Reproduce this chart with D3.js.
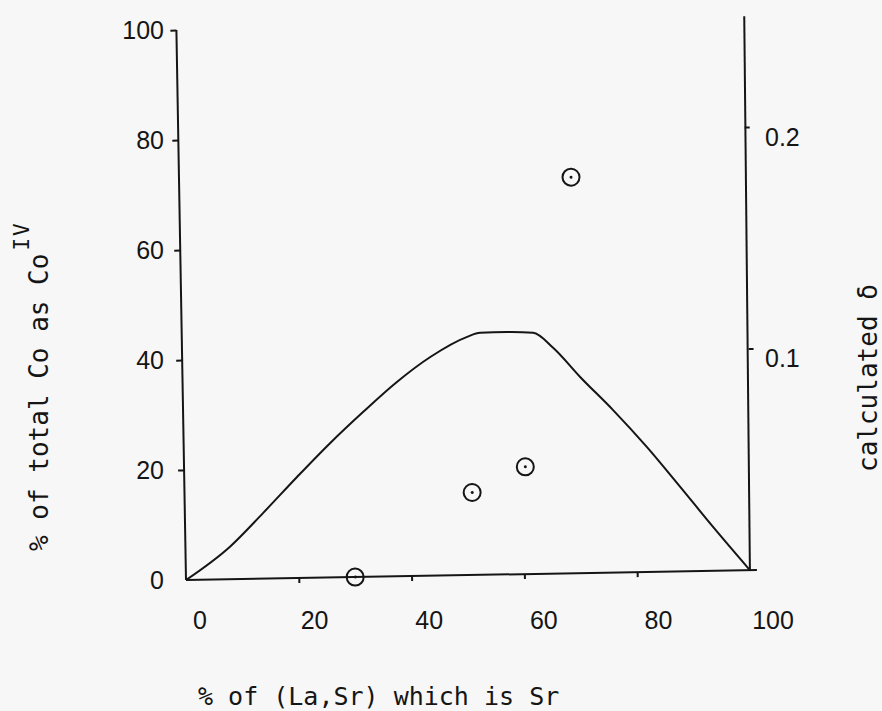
<!DOCTYPE html>
<html lang="en">

<head>
    <meta charset="UTF-8">
    <title>Co(IV) fraction vs Sr content</title>
    <script src="https://cdn.jsdelivr.net/npm/d3@7"></script>
    <style>
        html, body { margin: 0; padding: 0; background: #f7f7f7; }
        svg { display: block; }
    </style>
</head>

<body>
    <svg id="chart" width="882" height="711"></svg>

    <script>
        // % of (La,Sr) which is Sr  vs  % of total Co as Co(IV)
        const measuredSr = [30, 51, 60.5, 69.5]
        const measuredCoIV = [0, 15, 19.5, 72]

        // calculated delta curve (right axis)
        const curveSr = [0, 7.9, 13.9, 20, 26, 31.9, 38, 44, 50.6, 52.9, 57.7, 62.3, 65.8, 70.5, 76.2, 82.1, 87.9, 93.6, 100]
        const curveDelta = [0, 0.0147, 0.0297, 0.0456, 0.0607, 0.0744, 0.0877, 0.0987, 0.1075, 0.1092, 0.1094, 0.1088, 0.1019, 0.0885, 0.0734, 0.0564, 0.0381, 0.0198, 0]

        const xTicks = [0, 20, 40, 60, 80, 100]
        const leftTicks = [0, 20, 40, 60, 80, 100]
        const rightTicks = [0.1, 0.2]

        const ink = '#151515'
        const svg = d3.select('#chart')

        const x = d3.scaleLinear().domain([0, 100]).range([186, 750])
        const xLabel = d3.scaleLinear().domain([0, 100]).range([200, 773])
        const yLeft = d3.scaleLinear().domain([0, 100]).range([580, 30])
        const yRight = d3.scaleLinear().domain([0, 0.25]).range([580, 26])

        // the scanned figure sits slightly rotated on the page
        const plot = svg.append('g')
            .attr('transform', `rotate(-1, ${x(0)}, ${yLeft(0)})`)

        // axis lines (the right one is drawn a touch less tilted)
        const axisLines = [
            [[x(0), yLeft(0)], [x(0), yLeft(100)]],
            [[x(0), yLeft(0)], [x(100) + 7, yLeft(0)]],
            [[x(100), yRight(0)], [x(100) + 4, yRight(0.25)]]
        ]
        plot.selectAll('line.axis')
            .data(axisLines)
            .join('line')
            .attr('class', 'axis')
            .attr('x1', d => d[0][0]).attr('y1', d => d[0][1])
            .attr('x2', d => d[1][0]).attr('y2', d => d[1][1])
            .attr('stroke', ink)
            .attr('stroke-width', 2)

        // tick marks
        const left = plot.append('g')
            .attr('transform', `translate(${x(0)},0)`)
            .call(d3.axisLeft(yLeft).tickValues([20, 40, 60, 80, 100]).tickSize(6).tickFormat(''))
        const bottom = plot.append('g')
            .attr('transform', `translate(0,${yLeft(0)})`)
            .call(d3.axisBottom(x).tickValues([20, 40, 60, 80]).tickSize(5).tickFormat(''))
        const right = plot.append('g')
            .attr('transform', `translate(${x(100) + 2.5},0)`)
            .call(d3.axisRight(yRight).tickValues(rightTicks).tickSize(5).tickFormat(''))
        ;[left, bottom, right].forEach(g => {
            g.select('.domain').remove()
            g.selectAll('line').attr('stroke', ink).attr('stroke-width', 2)
        })

        // calculated delta curve
        const line = d3.line()
            .x(d => x(d[0]))
            .y(d => yRight(d[1]))
            .curve(d3.curveMonotoneX)
        plot.append('path')
            .datum(curveSr.map((s, i) => [s, curveDelta[i]]))
            .attr('d', line)
            .attr('fill', 'none')
            .attr('stroke', ink)
            .attr('stroke-width', 2)

        // measured points: circled dots
        const pts = plot.selectAll('g.pt')
            .data(measuredSr.map((s, i) => [s, measuredCoIV[i]]))
            .join('g')
            .attr('class', 'pt')
            .attr('transform', d => `translate(${x(d[0])},${yLeft(d[1])})`)
        pts.append('circle')
            .attr('r', 8.5)
            .attr('fill', 'none')
            .attr('stroke', ink)
            .attr('stroke-width', 2)
        pts.append('circle')
            .attr('r', 1.5)
            .attr('fill', ink)

        // tick labels (typed on the page, not rotated)
        const tickFont = '"Liberation Sans", Arial, sans-serif'
        svg.selectAll('text.xt')
            .data(xTicks)
            .join('text')
            .attr('class', 'xt')
            .attr('x', d => xLabel(d))
            .attr('y', 629)
            .attr('text-anchor', 'middle')
            .attr('font-family', tickFont)
            .attr('font-size', 25)
            .attr('fill', ink)
            .text(d => d)

        svg.selectAll('text.yl')
            .data(leftTicks)
            .join('text')
            .attr('class', 'yl')
            .attr('x', 164)
            .attr('y', d => yLeft(d) + 9)
            .attr('text-anchor', 'end')
            .attr('font-family', tickFont)
            .attr('font-size', 25)
            .attr('fill', ink)
            .text(d => d)

        svg.selectAll('text.yr')
            .data(rightTicks)
            .join('text')
            .attr('class', 'yr')
            .attr('x', 765)
            .attr('y', d => yRight(d) + 9)
            .attr('font-family', tickFont)
            .attr('font-size', 25)
            .attr('fill', ink)
            .text(d => d.toFixed(1))

        // axis titles
        const titleFont = '"DejaVu Sans Mono", "Liberation Mono", monospace'
        svg.append('text')
            .attr('x', 198)
            .attr('y', 705)
            .attr('font-family', titleFont)
            .attr('font-size', 25)
            .attr('fill', ink)
            .text('% of (La,Sr) which is Sr')

        const yTitle = svg.append('text')
            .attr('transform', 'translate(48,551) rotate(-90)')
            .attr('font-family', titleFont)
            .attr('font-size', 26)
            .attr('fill', ink)
        yTitle.append('tspan').text('% of total Co as Co')
        yTitle.append('tspan')
            .attr('dy', -19)
            .attr('dx', 3)
            .attr('font-size', 21)
            .attr('letter-spacing', 2)
            .text('IV')

        svg.append('text')
            .attr('transform', 'translate(877,472) rotate(-90)')
            .attr('font-family', titleFont)
            .attr('font-size', 26)
            .attr('fill', ink)
            .text('calculated δ')
    </script>
</body>

</html>
